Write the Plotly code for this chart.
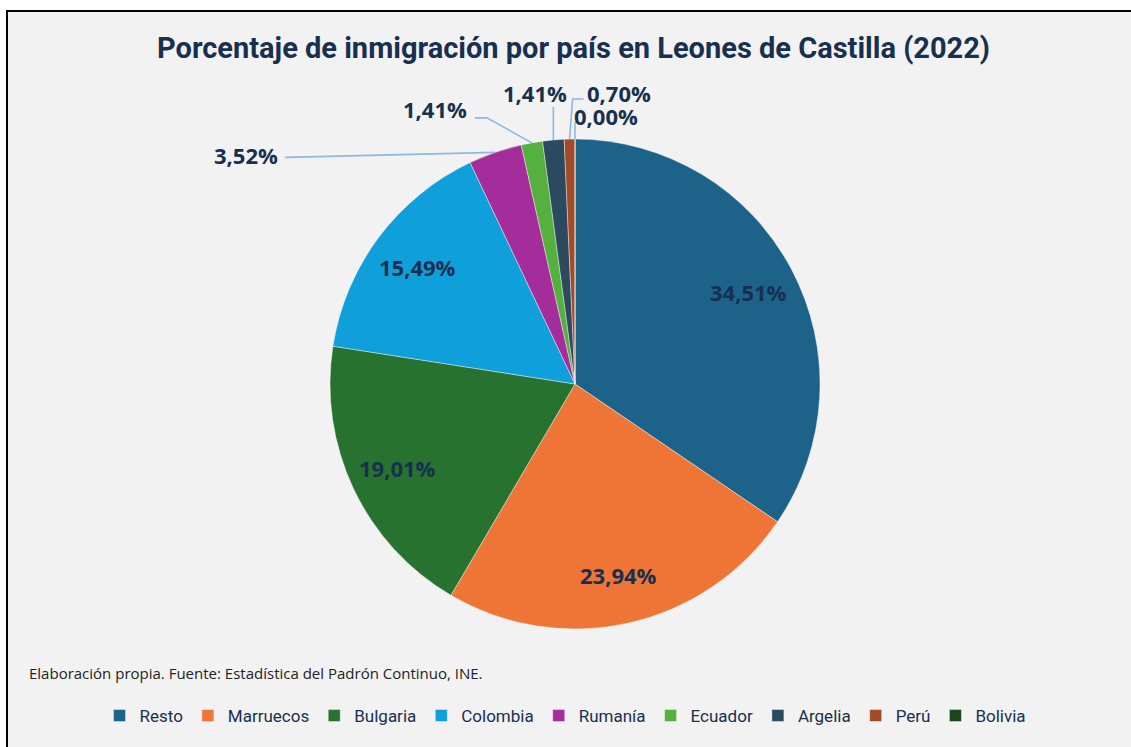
import math
import plotly.graph_objects as go

# ---- data ----
countries = ["Resto", "Marruecos", "Bulgaria", "Colombia", "Rumanía", "Ecuador", "Argelia", "Perú", "Bolivia"]
counts = [49, 34, 27, 22, 5, 2, 2, 1, 0]
colors = ["#1D6389", "#EE7535", "#28722F", "#0FA0DB", "#A52D9B", "#55B040", "#2B4A60", "#A34A27", "#1B461B"]

title = "Porcentaje de inmigración por país en Leones de Castilla (2022)"
caption = "Elaboración propia. Fuente: Estadística del Padrón Continuo, INE."

W, H = 1131, 747
CX, CY, R = 575, 384, 245
total = sum(counts)
pct = [c / total * 100 for c in counts]
labels_txt = [f"{p:.2f}".replace(".", ",") + "%" for p in pct]

def P(x, y):
    return x / W, 1 - y / H

fig = go.Figure(go.Pie(
    labels=countries, values=counts, sort=False, direction="clockwise", rotation=0,
    marker=dict(colors=colors, line=dict(color="rgba(255,255,255,0.5)", width=0.8)),
    textinfo="none", hoverinfo="label+percent",
    domain=dict(x=[(CX - R) / W, (CX + R) / W], y=[1 - (CY + R) / H, 1 - (CY - R) / H]),
))

annotations = []
shapes = [dict(type="rect", xref="paper", yref="paper", x0=7 / W, x1=1.02, y0=-0.02, y1=1 - 11 / H,
               line=dict(color="black", width=2), fillcolor="#F2F2F2", layer="below")]

lab_font = dict(family="Open Sans, Roboto, sans-serif", size=22, color="#17304F")
# outside label layout: (polyline offsets from slice edge point, text center offset)
outside = {
    4: ([(-210, 5)], (-249, 3)),
    5: ([(-45, -25), (-57, -25)], (-97, -34)),
    6: ([(0, -33)], (-18, -47)),
    7: ([(3, -40), (14, -40)], (49, -46)),
    8: ([(0, -17)], (31, -23)),
}
cum = 0
for i, c in enumerate(counts):
    mid = (cum + c / 2) / total * 2 * math.pi
    cum += c
    if i < 4:
        d = 0.8 * R
        x, y = CX + d * math.sin(mid), CY - d * math.cos(mid)
        px, py = P(x, y)
    else:
        ex, ey = CX + R * math.sin(mid), CY - R * math.cos(mid)
        pts, toff = outside[i]
        path = f"M{ex / W},{1 - ey / H}"
        for ox, oy in pts:
            path += f" L{(ex + ox) / W},{1 - (ey + oy) / H}"
        shapes.append(dict(type="path", xref="paper", yref="paper", path=path,
                           line=dict(color="#8DB8E4", width=1.6)))
        px, py = P(ex + toff[0], ey + toff[1])
    annotations.append(dict(x=px, y=py, xref="paper", yref="paper", xanchor="center", yanchor="middle",
                            text=f"<b>{labels_txt[i]}</b>", showarrow=False, font=lab_font))

annotations.append(dict(x=P(573, 48)[0], y=P(573, 48)[1], xref="paper", yref="paper",
                        xanchor="center", yanchor="middle",
                        text=f"<b>{title}</b>", showarrow=False,
                        font=dict(family="Roboto, sans-serif", size=29, color="#17304F")))
annotations.append(dict(x=27 / W, y=P(0, 673)[1], xref="paper", yref="paper", xanchor="left", yanchor="middle",
                        text=caption, showarrow=False,
                        font=dict(family="Open Sans, sans-serif", size=15, color="#222222")))

fig.update_layout(
    width=W, height=H, margin=dict(l=0, r=0, t=0, b=0),
    paper_bgcolor="white", plot_bgcolor="#F2F2F2",
    showlegend=True,
    legend=dict(orientation="h", x=0.5, xanchor="center", y=1 - 716 / H, yanchor="middle",
                font=dict(family="Roboto, sans-serif", size=17, color="#17304F"),
                bgcolor="rgba(0,0,0,0)", itemwidth=30, traceorder="normal"),
    annotations=annotations, shapes=shapes,
)

fig.write_html("out.html", config={"displayModeBar": False},
               post_script="document.body.style.margin='0';document.body.style.overflow='hidden';")
